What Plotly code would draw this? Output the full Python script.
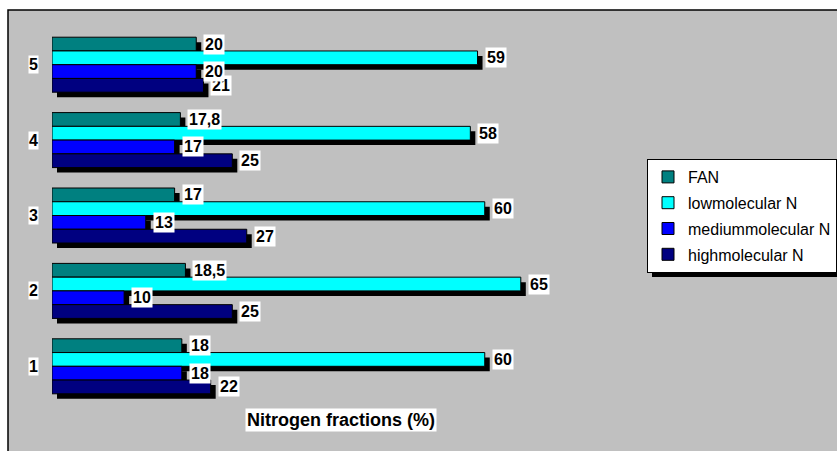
import plotly.graph_objects as go

# ---- data -------------------------------------------------------------
categories = ["1", "2", "3", "4", "5"]
series_names = ["FAN", "lowmolecular N", "mediummolecular N", "highmolecular N"]
fan = [18, 18.5, 17, 17.8, 20]
low_mol = [60, 65, 60, 58, 59]
medium_mol = [18, 10, 13, 17, 20]
high_mol = [22, 25, 27, 25, 21]
axis_title = "Nitrogen fractions (%)"

series_values = [fan, low_mol, medium_mol, high_mol]
series_colors = ["#008080", "#00FFFF", "#0000FF", "#000080"]

# ---- layout geometry (pixels) ----------------------------------------
W, H = 837, 451
M_L, M_R, M_T, M_B = 52, 208, 27, 47
X_MAX = 80
plot_w = W - M_L - M_R
plot_h = H - M_T - M_B
px_x = plot_w / X_MAX            # pixels per x unit
px_y = plot_h / len(categories)  # pixels per category

bar_w = 13.75 / px_y             # bar thickness in category units
shadow_dx = 5 / px_x
shadow_dy = 5 / px_y
# FAN on top of each group, highmolecular at the bottom
offsets = [bar_w, 0, -bar_w, -2 * bar_w]

FONT = "Liberation Sans, Arial, sans-serif"
y_pos = list(range(1, len(categories) + 1))


def to_paper_x(px):
    return (px - M_L) / plot_w


def to_paper_y(py):
    return (H - M_B - py) / plot_h


fig = go.Figure()

# drop shadows behind every bar
for vals, off in zip(series_values, offsets):
    fig.add_trace(go.Bar(
        x=vals, y=y_pos, orientation="h",
        base=shadow_dx, offset=off - shadow_dy, width=bar_w,
        marker=dict(color="black", line=dict(width=0)),
        showlegend=False, hoverinfo="skip",
    ))

# the bars themselves
for name, vals, off, col in zip(series_names, series_values, offsets, series_colors):
    fig.add_trace(go.Bar(
        x=vals, y=y_pos, orientation="h", name=name,
        offset=off, width=bar_w, legendgroup=name,
        marker=dict(color=col, line=dict(color="black", width=1)),
    ))


def fmt(v):
    return (f"{v:g}").replace(".", ",")


annotations = []
# value labels; medium labels are stacked above the high ones
for idx in [0, 1, 3, 2]:
    vals, off = series_values[idx], offsets[idx]
    for yc, v in zip(y_pos, vals):
        annotations.append(dict(
            x=v, y=yc + off + bar_w / 2, xref="x", yref="y",
            text=f"<b>{fmt(v)}</b>", showarrow=False,
            xanchor="left", yanchor="middle", xshift=7,
            bgcolor="white", borderpad=1,
            font=dict(family=FONT, size=16, color="black"),
        ))

# category labels
for yc, c in zip(y_pos, categories):
    annotations.append(dict(
        x=0, y=yc, xref="paper", yref="y",
        text=f"<b>{c}</b>", showarrow=False,
        xanchor="center", yanchor="middle", xshift=-19,
        bgcolor="white", borderpad=0,
        font=dict(family=FONT, size=16, color="black"),
    ))

# axis title
annotations.append(dict(
    x=0.5, y=0, xref="paper", yref="paper",
    text=f"<b>{axis_title}</b>", showarrow=False,
    xanchor="center", yanchor="middle", yshift=-16,
    bgcolor="white", borderpad=1,
    font=dict(family=FONT, size=18, color="black"),
))

# legend placement
LEG_L, LEG_T, LEG_R, LEG_B = 647, 159, 833, 272

shapes = [
    # grey chart area with black frame
    dict(type="rect", xref="paper", yref="paper", layer="below",
         x0=to_paper_x(8), x1=to_paper_x(W + 5),
         y0=to_paper_y(H + 5), y1=to_paper_y(10),
         fillcolor="#C0C0C0", line=dict(color="black", width=1.5)),
    # legend shadow
    dict(type="rect", xref="paper", yref="paper", layer="below",
         x0=to_paper_x(LEG_L + 5), x1=to_paper_x(LEG_R + 5),
         y0=to_paper_y(LEG_B + 5), y1=to_paper_y(LEG_T + 5),
         fillcolor="black", line=dict(width=0)),
]

fig.update_layout(
    width=W, height=H,
    margin=dict(l=M_L, r=M_R, t=M_T, b=M_B, autoexpand=False),
    paper_bgcolor="white",
    plot_bgcolor="rgba(0,0,0,0)",
    barmode="overlay",
    xaxis=dict(range=[0, X_MAX], visible=False, fixedrange=True),
    yaxis=dict(range=[0.5, len(categories) + 0.5], visible=False, fixedrange=True),
    showlegend=True,
    legend=dict(
        x=to_paper_x(LEG_L), y=to_paper_y(LEG_T),
        xanchor="left", yanchor="top",
        bgcolor="white", bordercolor="black", borderwidth=1,
        font=dict(family=FONT, size=16, color="black"),
        traceorder="grouped", tracegroupgap=2,
    ),
    annotations=annotations,
    shapes=shapes,
    font=dict(family=FONT),
)

fig.write_html("out.html")
